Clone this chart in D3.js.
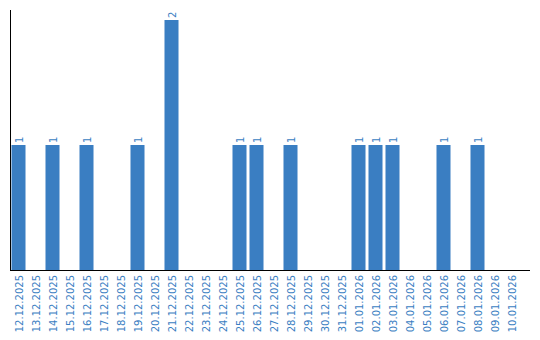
<!DOCTYPE html>
<html>
<head>
<meta charset="utf-8">
<script src="https://cdn.jsdelivr.net/npm/d3@7"></script>
<style>
  body { margin: 0; background: #fff; }
  text { font-family: "DejaVu Sans", sans-serif; }
</style>
</head>
<body>
<svg id="chart" width="540" height="340"></svg>
<script>
  const dates = ['12.12.2025', '13.12.2025', '14.12.2025', '15.12.2025', '16.12.2025',
    '17.12.2025', '18.12.2025', '19.12.2025', '20.12.2025', '21.12.2025', '22.12.2025',
    '23.12.2025', '24.12.2025', '25.12.2025', '26.12.2025', '27.12.2025', '28.12.2025',
    '29.12.2025', '30.12.2025', '31.12.2025', '01.01.2026', '02.01.2026', '03.01.2026',
    '04.01.2026', '05.01.2026', '06.01.2026', '07.01.2026', '08.01.2026', '09.01.2026',
    '10.01.2026'];
  const counts = [1, 0, 1, 0, 1, 0, 0, 1, 0, 2, 0, 0, 0, 1, 1, 0, 1, 0, 0, 0, 1, 1, 1, 0, 0, 1, 0, 1, 0, 0];

  const blue = '#3a7ec2';
  const margin = { left: 10, top: 10, bottom: 270, right: 530 };

  const svg = d3.select('#chart');

  const x = d3.scaleBand()
    .domain(dates)
    .range([margin.left, 520])
    .paddingInner(0.176)
    .paddingOuter(0.088);

  const y = d3.scaleLinear()
    .domain([0, 2])
    .range([margin.bottom, 20]);

  const data = dates.map((d, i) => ({ date: d, value: counts[i] }));

  // bars
  svg.append('g').selectAll('rect')
    .data(data.filter(d => d.value > 0))
    .enter().append('rect')
    .attr('x', d => x(d.date))
    .attr('y', d => y(d.value))
    .attr('width', x.bandwidth())
    .attr('height', d => y(0) - y(d.value))
    .attr('fill', blue);

  // value labels, rotated
  svg.append('g').selectAll('text')
    .data(data.filter(d => d.value > 0))
    .enter().append('text')
    .attr('transform', d => `translate(${x(d.date) + x.bandwidth() / 2 + 4},${y(d.value) - 2}) rotate(-90)`)
    .attr('font-size', 10)
    .attr('fill', blue)
    .text(d => d.value);

  // x tick labels
  svg.append('g').selectAll('text')
    .data(dates)
    .enter().append('text')
    .attr('transform', d => `translate(${x(d) + x.bandwidth() / 2 + 4},275) rotate(-90)`)
    .attr('text-anchor', 'end')
    .attr('font-size', 10)
    .attr('fill', blue)
    .text(d => d);

  // axis lines
  svg.append('line')
    .attr('x1', margin.left + 0.5).attr('x2', margin.left + 0.5)
    .attr('y1', margin.top).attr('y2', margin.bottom)
    .attr('stroke', '#000');
  svg.append('line')
    .attr('x1', margin.left).attr('x2', margin.right)
    .attr('y1', margin.bottom + 0.5).attr('y2', margin.bottom + 0.5)
    .attr('stroke', '#000');
</script>
</body>
</html>
